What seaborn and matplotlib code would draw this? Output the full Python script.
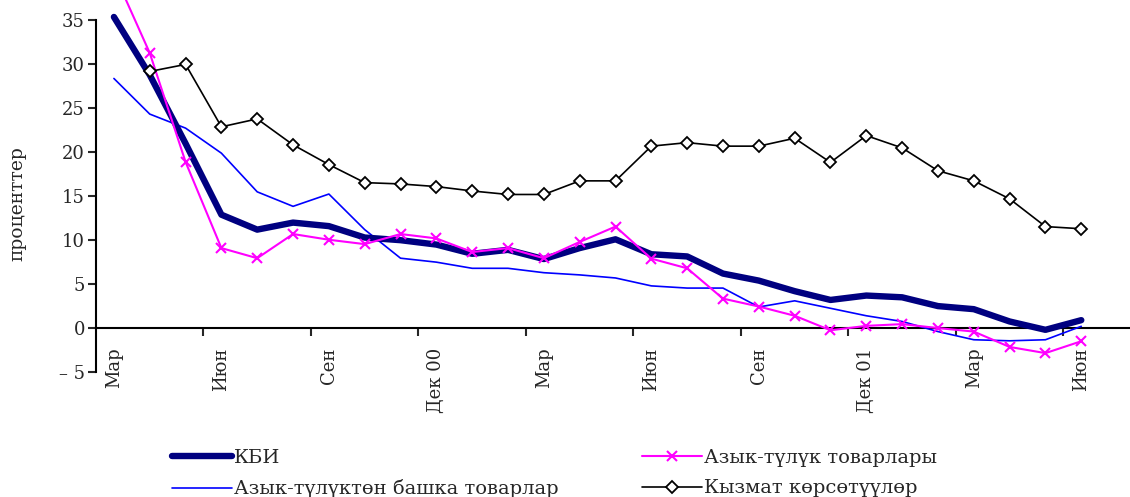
import numpy as np
import pandas as pd
import matplotlib
matplotlib.use("Agg")
import matplotlib.pyplot as plt
import seaborn as sns

# months from Mar 1999 to Jun 2001 (28 points), labels every 3 months
tick_labels = ['Мар', 'Июн', 'Сен', 'Дек 00', 'Мар', 'Июн', 'Сен', 'Дек 01', 'Мар', 'Июн']

kbi = [35.4, 28.8, 21.0, 12.9, 11.2, 12.0, 11.6, 10.3, 10.0, 9.5,
       8.45, 8.9, 7.85, 9.1, 10.1, 8.4, 8.15, 6.2, 5.4, 4.2,
       3.2, 3.7, 3.5, 2.5, 2.15, 0.75, -0.2, 0.9]
nonfood = [28.4, 24.35, 22.75, 19.9, 15.5, 13.85, 15.25, 11.2, 7.95, 7.5,
           6.8, 6.8, 6.3, 6.05, 5.7, 4.8, 4.55, 4.55, 2.4, 3.1,
           2.25, 1.4, 0.75, -0.4, -1.33, -1.45, -1.33, 0.2]
food = [40.4, 31.3, 18.9, 9.1, 7.95, 10.7, 10.05, 9.55, 10.7, 10.2,
        8.65, 9.1, 7.95, 9.8, 11.55, 7.9, 6.8, 3.35, 2.45, 1.4,
        -0.25, 0.25, 0.45, 0.0, -0.4, -2.15, -2.85, -1.5]
services = [np.nan, 29.2, 30.0, 22.9, 23.8, 20.85, 18.6, 16.55, 16.4, 16.1,
            15.6, 15.2, 15.2, 16.75, 16.75, 20.7, 21.1, 20.7, 20.7, 21.6,
            18.85, 21.9, 20.5, 17.9, 16.75, 14.7, 11.55, 11.3]

months = np.arange(len(kbi))
df = pd.DataFrame({'m': months, 'kbi': kbi, 'nonfood': nonfood,
                   'food': food, 'services': services})

sns.set_style('white')
plt.rcParams['font.family'] = ['DejaVu Serif']

fig = plt.figure(figsize=(11.3, 4.97), dpi=100)
ax = fig.add_axes([96 / 1130, 0.2515, 1 - 96 / 1130, 0.7073])

sns.lineplot(data=df, x='m', y='kbi', ax=ax, color='#000080', lw=4.6,
             label='КБИ', clip_on=False, zorder=4)
sns.lineplot(data=df, x='m', y='nonfood', ax=ax, color='#0000FF', lw=1.2,
             label='Азык-түлүктөн башка товарлар', clip_on=False, zorder=3)
sns.lineplot(data=df, x='m', y='food', ax=ax, color='#FF00FF', lw=1.5,
             marker='x', markersize=7, markeredgewidth=1.5, markeredgecolor='#FF00FF',
             label='Азык-түлүк товарлары', clip_on=False, zorder=5)
sns.lineplot(data=df, x='m', y='services', ax=ax, color='black', lw=1.2,
             marker='D', markersize=6.3, markerfacecolor='white', markeredgecolor='black',
             markeredgewidth=1.3, label='Кызмат көрсөтүүлөр', clip_on=False, zorder=6)

ax.set_xlim(-0.5, 28.36)
ax.set_ylim(-5, 35)

for s in ['top', 'right']:
    ax.spines[s].set_visible(False)
ax.spines['bottom'].set_position(('data', 0))
ax.spines['bottom'].set_color('black')
ax.spines['bottom'].set_linewidth(1.5)
ax.spines['left'].set_color('black')
ax.spines['left'].set_linewidth(1.5)

ax.set_yticks(range(-5, 36, 5))
ax.set_yticklabels(['– 5' if v < 0 else str(v) for v in range(-5, 36, 5)], fontsize=13)
ax.tick_params(axis='y', direction='out', length=6, width=1.5, pad=2, left=True)

ax.set_xticks(np.arange(0, 28, 3))
ax.set_xticklabels(tick_labels, rotation=90, fontsize=13, va='top', ha='center')
ax.set_xticks(np.arange(2.5, 28, 3), minor=True)
ax.tick_params(axis='x', which='major', length=0, pad=14, bottom=True)
ax.tick_params(axis='x', which='minor', direction='out', length=6, width=1.5, bottom=True)

ax.set_xlabel('')
ax.set_ylabel('проценттер', fontsize=13.5)
ax.yaxis.set_label_coords(-0.067, 0.48)

ax.get_legend().remove()
h, l = ax.get_legend_handles_labels()
fig.legend(h, l, ncol=2, loc='upper left', bbox_to_anchor=(0.152, 0.097),
           frameon=False, fontsize=14, handlelength=3.1, handletextpad=0.1,
           columnspacing=4.3, borderpad=0, borderaxespad=0, labelspacing=0.65)

fig.savefig('out.png', dpi=100, facecolor='white')
